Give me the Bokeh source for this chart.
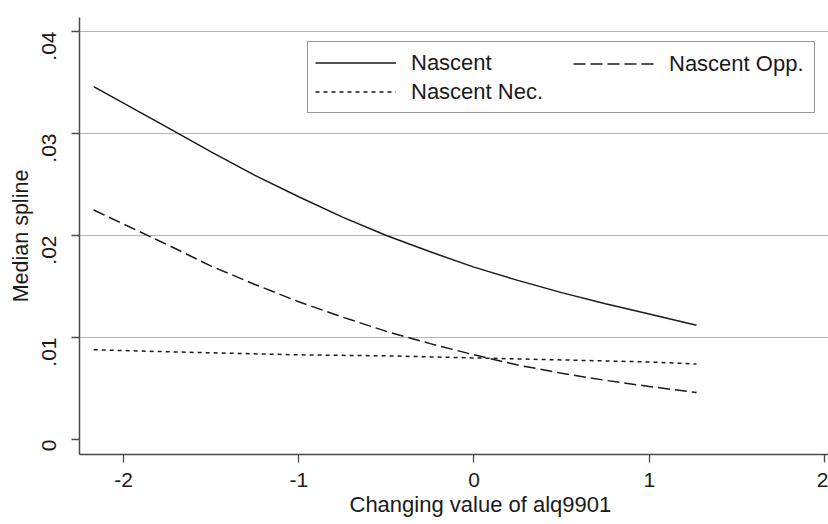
import math
from bokeh.plotting import figure
from bokeh.models import Range1d, FixedTicker, Legend, LegendItem, Title
from bokeh.embed import file_html
from bokeh.resources import INLINE

# ---- data ----
x_vals = [-2.17, -1.75, -1.5, -1.25, -1.0, -0.75, -0.5, -0.25, 0.0, 0.25, 0.5, 0.75, 1.0, 1.27]
nascent = [0.0346, 0.0306, 0.0282, 0.0259, 0.0238, 0.0218, 0.0200, 0.0184, 0.0169,
           0.0156, 0.0144, 0.0133, 0.0123, 0.0112]
nascent_opp = [0.0225, 0.0191, 0.0170, 0.0152, 0.0135, 0.0120, 0.0106, 0.0094, 0.0083,
               0.0073, 0.0065, 0.0058, 0.0052, 0.0046]
nascent_nec = [0.0088, 0.0086, 0.0085, 0.0084, 0.0083, 0.00825, 0.0082, 0.0081, 0.0080,
               0.0079, 0.0078, 0.0077, 0.0076, 0.0074]

x_ticks = [-2, -1, 0, 1, 2]
x_tick_labels = ["-2", "-1", "0", "1", "2"]
y_ticks = [0, 0.01, 0.02, 0.03, 0.04]
y_tick_labels = ["0", ".01", ".02", ".03", ".04"]
grid_ticks = [0.01, 0.02, 0.03, 0.04]

series_names = ["Nascent", "Nascent Opp.", "Nascent Nec."]
x_title = "Changing value of alq9901"
y_title = "Median spline"

FONT = "Liberation Sans"
INK = "#1a1a1a"
AXIS = "#4a4a4a"

p = figure(width=828, height=524, output_backend="svg", toolbar_location=None,
           x_range=Range1d(-2.251, 2.023), y_range=Range1d(-0.00147, 0.04137),
           min_border_left=79, min_border_right=0, min_border_top=17, min_border_bottom=70)
p.outline_line_color = None
p.background_fill_color = "white"
p.border_fill_color = "white"

p.xgrid.visible = False
p.ygrid.ticker = FixedTicker(ticks=grid_ticks)
p.ygrid.grid_line_color = "#b5b5b5"
p.ygrid.grid_line_width = 1.2

for ax in (p.xaxis[0], p.yaxis[0]):
    ax.axis_line_color = AXIS
    ax.axis_line_width = 1.5
    ax.major_tick_line_color = AXIS
    ax.major_tick_line_width = 1.3
    ax.major_tick_out = 8
    ax.major_tick_in = 0
    ax.minor_tick_line_color = None
    ax.major_label_text_font = FONT
    ax.major_label_text_font_size = "21px"
    ax.major_label_text_color = INK

p.xaxis.ticker = FixedTicker(ticks=x_ticks)
p.xaxis.major_label_overrides = dict(zip(x_ticks, x_tick_labels))
p.xaxis.major_label_standoff = 10

p.yaxis.ticker = FixedTicker(ticks=y_ticks)
p.yaxis.major_label_overrides = dict(zip(y_ticks, y_tick_labels))
p.yaxis.major_label_orientation = math.pi / 2
p.yaxis.major_label_standoff = 22
p.yaxis.axis_label = y_title
p.yaxis.axis_label_text_font = FONT
p.yaxis.axis_label_text_font_size = "21.5px"
p.yaxis.axis_label_text_font_style = "normal"
p.yaxis.axis_label_text_color = INK
p.yaxis.axis_label_standoff = 0

r1 = p.line(x_vals, nascent, line_color=INK, line_width=1.5)
r2 = p.line(x_vals, nascent_opp, line_color=INK, line_width=1.5, line_dash="12 5")
r3 = p.line(x_vals, nascent_nec, line_color=INK, line_width=1.5, line_dash="4 4")

common = dict(glyph_width=81, glyph_height=27, label_height=27, label_standoff=15,
              label_text_font=FONT, label_text_font_size="22px", label_text_color=INK,
              margin=0)

leg1 = Legend(items=[LegendItem(label=series_names[0], renderers=[r1]),
                     LegendItem(label=series_names[2], renderers=[r3])],
              location=(228, 341), orientation="vertical", spacing=2, padding=7,
              label_width=396, border_line_color="#333333", border_line_width=1,
              background_fill_color="white", background_fill_alpha=1.0, **common)
leg2 = Legend(items=[LegendItem(label=series_names[1], renderers=[r2])],
              location=(494, 377), padding=0, border_line_color=None,
              background_fill_alpha=0.0, **common)
p.add_layout(leg1)
p.add_layout(leg2)

xt = Title(text=x_title, align="left", offset=270, standoff=0, vertical_align="bottom",
           text_font=FONT, text_font_size="22px", text_font_style="normal", text_color=INK)
p.add_layout(xt, "below")

open("out.html", "w").write(file_html(p, INLINE))
